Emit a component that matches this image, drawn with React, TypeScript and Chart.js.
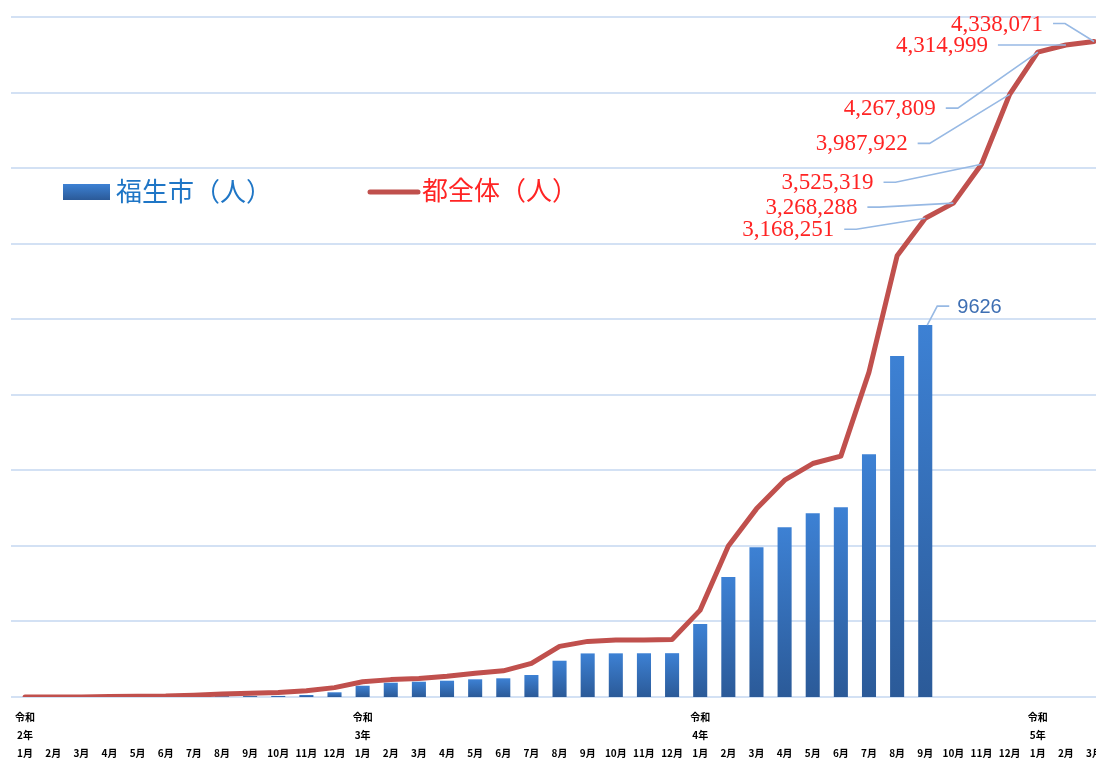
import React, { useEffect, useRef } from "react";
import { Chart, registerables } from "chart.js";

Chart.register(...registerables);

const categories = [
  "令和2年1月", "令和2年2月", "令和2年3月", "令和2年4月", "令和2年5月", "令和2年6月",
  "令和2年7月", "令和2年8月", "令和2年9月", "令和2年10月", "令和2年11月", "令和2年12月",
  "令和3年1月", "令和3年2月", "令和3年3月", "令和3年4月", "令和3年5月", "令和3年6月",
  "令和3年7月", "令和3年8月", "令和3年9月", "令和3年10月", "令和3年11月", "令和3年12月",
  "令和4年1月", "令和4年2月", "令和4年3月", "令和4年4月", "令和4年5月", "令和4年6月",
  "令和4年7月", "令和4年8月", "令和4年9月", "令和4年10月", "令和4年11月", "令和4年12月",
  "令和5年1月", "令和5年2月", "令和5年3月",
];

// 福生市（人） cumulative
const fussaCases: (number | null)[] = [
  0, 0, 0, 3, 4, 4, 10, 18, 22, 28, 52, 122,
  292, 370, 396, 422, 458, 484, 569, 939, 1128, 1130, 1132, 1134,
  1888, 3105, 3873, 4391, 4753, 4908, 6280, 8823, 9626, null, null, null,
  null, null, null,
];

// 都全体（人） cumulative
const tokyoCases: number[] = [
  0, 0, 500, 4000, 5200, 6200, 12000, 20000, 25000, 30000, 41000, 62000,
  101000, 115000, 122000, 137000, 157000, 173000, 222000, 335000, 368000, 377000, 378000, 380000,
  575000, 1000000, 1245000, 1435000, 1545000, 1594000, 2150000, 2920000, 3168251, 3268288, 3525319, 3987922,
  4267809, 4314999, 4338071,
];

const seriesNames = ["福生市（人）", "都全体（人）"];

// which line points carry a data label
const labeledLineIndices = [32, 33, 34, 35, 36, 37, 38];
const lineLabelOffsets = [
  { dx: -91, dy: 11 },
  { dx: -96, dy: 4 },
  { dx: -108, dy: 18 },
  { dx: -102, dy: 49 },
  { dx: -102, dy: 56 },
  { dx: -78, dy: 0 },
  { dx: -51, dy: -18 },
];

const BAR_TOP = "#3d81d4";
const BAR_BOTTOM = "#2b5a98";
const LINE_COLOR = "#c0504d";
const LEADER = "#97b9e4";

const labelsPlugin = {
  id: "customLabels",
  afterDatasetsDraw(chart: any) {
    const ctx: CanvasRenderingContext2D = chart.ctx;
    const lineMeta = chart.getDatasetMeta(1);
    const barMeta = chart.getDatasetMeta(0);
    ctx.save();

    // line data labels
    ctx.font = '23px "Liberation Serif", serif';
    ctx.textBaseline = "middle";
    ctx.textAlign = "right";
    labeledLineIndices.forEach((idx, k) => {
      const pt = lineMeta.data[idx];
      if (!pt) return;
      const off = lineLabelOffsets[k];
      const right = pt.x + off.dx;
      const ty = pt.y + off.dy;
      ctx.strokeStyle = LEADER;
      ctx.lineWidth = 1.6;
      ctx.beginPath();
      ctx.moveTo(right + 10, ty);
      ctx.lineTo(right + 22, ty);
      ctx.lineTo(pt.x, pt.y);
      ctx.stroke();
      ctx.fillStyle = "#ff2424";
      ctx.fillText(tokyoCases[idx].toLocaleString("en-US"), right, ty + 1);
    });

    // bar data label on last bar
    let last = -1;
    fussaCases.forEach((v, i) => { if (v != null) last = i; });
    if (last >= 0) {
      const bar = barMeta.data[last];
      const bx = bar.x, by = bar.y;
      ctx.strokeStyle = LEADER;
      ctx.lineWidth = 1.6;
      ctx.beginPath();
      ctx.moveTo(bx + 2, by);
      ctx.lineTo(bx + 12, by - 19);
      ctx.lineTo(bx + 24, by - 19);
      ctx.stroke();
      ctx.font = '20px "Liberation Sans", sans-serif';
      ctx.textAlign = "left";
      ctx.fillStyle = "#3e6fb3";
      ctx.fillText(String(fussaCases[last]), bx + 32, by - 18);
    }

    // legend
    const sw = ctx.createLinearGradient(0, 184, 0, 200);
    sw.addColorStop(0, BAR_TOP);
    sw.addColorStop(1, BAR_BOTTOM);
    ctx.fillStyle = sw;
    ctx.fillRect(63, 184, 47, 16);
    ctx.font = '26px "Noto Sans CJK JP", sans-serif';
    ctx.textAlign = "left";
    ctx.textBaseline = "middle";
    ctx.fillStyle = "#1f76c6";
    ctx.fillText(chart.data.datasets[0].label, 116, 191);

    ctx.strokeStyle = LINE_COLOR;
    ctx.lineWidth = 5;
    ctx.lineCap = "round";
    ctx.beginPath();
    ctx.moveTo(370, 192);
    ctx.lineTo(418, 192);
    ctx.stroke();
    ctx.fillStyle = "#ff2424";
    ctx.fillText(chart.data.datasets[1].label, 422, 190);

    ctx.restore();
  },
};

export default function App() {
  const ref = useRef<HTMLCanvasElement | null>(null);

  useEffect(() => {
    if (!ref.current) return;
    const chart = new Chart(ref.current, {
      type: "bar",
      data: {
        labels: categories,
        datasets: [
          {
            type: "bar",
            label: seriesNames[0],
            data: fussaCases,
            yAxisID: "yBar",
            order: 2,
            categoryPercentage: 1,
            barPercentage: 0.5,
            backgroundColor: (c: any) => {
              const ch = c.chart;
              const v = c.raw;
              if (!ch.chartArea || v == null) return BAR_TOP;
              const top = ch.scales.yBar.getPixelForValue(v);
              const bottom = ch.scales.yBar.getPixelForValue(0);
              if (!isFinite(top) || bottom - top < 1) return BAR_BOTTOM;
              const g = ch.ctx.createLinearGradient(0, top, 0, bottom);
              g.addColorStop(0, BAR_TOP);
              g.addColorStop(1, BAR_BOTTOM);
              return g;
            },
            borderWidth: 0,
          } as any,
          {
            type: "line",
            label: seriesNames[1],
            data: tokyoCases,
            yAxisID: "y",
            order: 1,
            borderColor: LINE_COLOR,
            borderWidth: 5,
            pointRadius: 0,
            tension: 0,
            borderJoinStyle: "round",
            borderCapStyle: "round",
          } as any,
        ],
      },
      options: {
        responsive: false,
        animation: false,
        layout: { padding: { left: 11, right: 1, top: 17, bottom: 0 } },
        plugins: {
          legend: { display: false },
          tooltip: { enabled: false },
        },
        scales: {
          x: {
            grid: { display: false, drawTicks: false },
            border: { display: false },
            ticks: {
              autoSkip: false,
              maxRotation: 0,
              minRotation: 0,
              padding: 11,
              color: "#000",
              font: { size: 10, weight: "bold", family: '"Noto Sans CJK JP", sans-serif', lineHeight: "18px" },
              callback: (_v: any, i: number) => {
                const s = categories[i];
                const m = s.match(/^(令和)(\d+年)(\d+月)$/);
                if (!m) return s;
                return m[3] === "1月" ? [m[1], m[2], m[3]] : ["", "", m[3]];
              },
            },
          },
          y: {
            position: "right",
            min: 0,
            max: 4500000,
            ticks: { display: false, stepSize: 500000 },
            grid: { color: "#d3e1f4", lineWidth: 2, drawTicks: false },
            border: { display: false },
          },
          yBar: {
            display: false,
            min: 0,
            max: 17600,
          },
        },
      },
      plugins: [labelsPlugin],
    });
    return () => chart.destroy();
  }, []);

  return (
    <div style={{ position: "fixed", left: 0, top: 0, width: 1096, height: 760, overflow: "hidden", background: "#fff" }}>
      <canvas ref={ref} width={1113} height={773} style={{ width: 1113, height: 773, display: "block" }} />
    </div>
  );
}
